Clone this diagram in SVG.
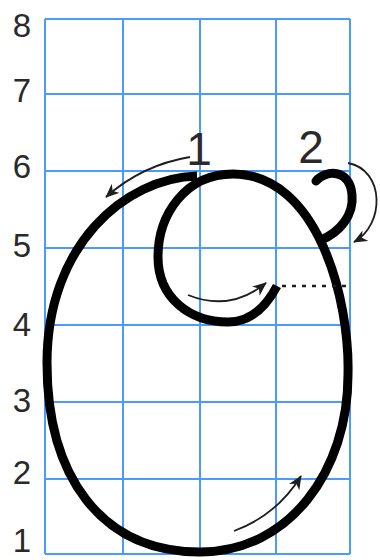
<svg xmlns="http://www.w3.org/2000/svg" width="380" height="560" viewBox="0 0 380 560">
<style>
.grid{stroke:#4a9bff;stroke-width:2;fill:none}
.ax{font-family:"Liberation Sans",Arial,sans-serif;font-size:33px;fill:#2a2a2a;text-anchor:middle}
.num{font-family:"Liberation Sans",Arial,sans-serif;font-size:46px;fill:#2a2a2a;text-anchor:middle}
.ink{stroke:#000;stroke-width:9;fill:none;stroke-linecap:butt;stroke-linejoin:round}
.arr{stroke:#1e1e1e;stroke-width:1.8;fill:none;marker-end:url(#ah)}
.dot{stroke:#1e1e1e;stroke-width:2.4;fill:none;stroke-dasharray:4 6}
</style>
<defs>
<marker id="ah" markerUnits="userSpaceOnUse" markerWidth="16" markerHeight="12" refX="13" refY="6" orient="auto">
<path d="M0,0 L14,6 L0,12 L4,6 Z" fill="#1e1e1e"/>
</marker>
</defs>
<rect width="380" height="560" fill="#fff"/>
<g id="grid" class="grid">
<path d="M45,19V554M123,19V554M200,19V554M276,19V554M350,19V554"/>
<path d="M45,19H350M45,94H350M45,171H350M45,248H350M45,325H350M45,402H350M45,479H350M45,554H350"/>
</g>
<g id="axis-labels" class="ax">
<text x="22" y="37">8</text>
<text x="22" y="102">7</text>
<text x="22" y="178">6</text>
<text x="22" y="257">5</text>
<text x="22" y="336">4</text>
<text x="22" y="412">3</text>
<text x="22" y="484">2</text>
<text x="22" y="552">1</text>
</g>
<g id="stroke-labels" class="num">
<text x="199" y="165">1</text>
<text x="311" y="163">2</text>
</g>
<g id="letter">
<path class="ink" d="M197,176 C125,178 47,245 47,363 C47,475 100,552 200,552 C290,552 348,470 348,375 C350,300 318,174 233,174 C185,174 158,215 158,257 C158,298 190,322 228,322 C250,322 266,307 277,286"/>
<path class="ink" d="M316,181 C325,170 350,168 352,195 C354,215 340,232 321,240" style="stroke-linecap:round"/>
</g>
<g id="connectors">
<path class="arr" d="M190,157 Q142,165 106,197"/>
<path class="arr" d="M348,163 C385,170 385,225 354,242"/>
<path class="arr" d="M188,295 Q230,312 266,283"/>
<path class="arr" d="M234,531 Q277,515 301,476"/>
<path class="dot" d="M282,286 H350"/>
</g>
</svg>
